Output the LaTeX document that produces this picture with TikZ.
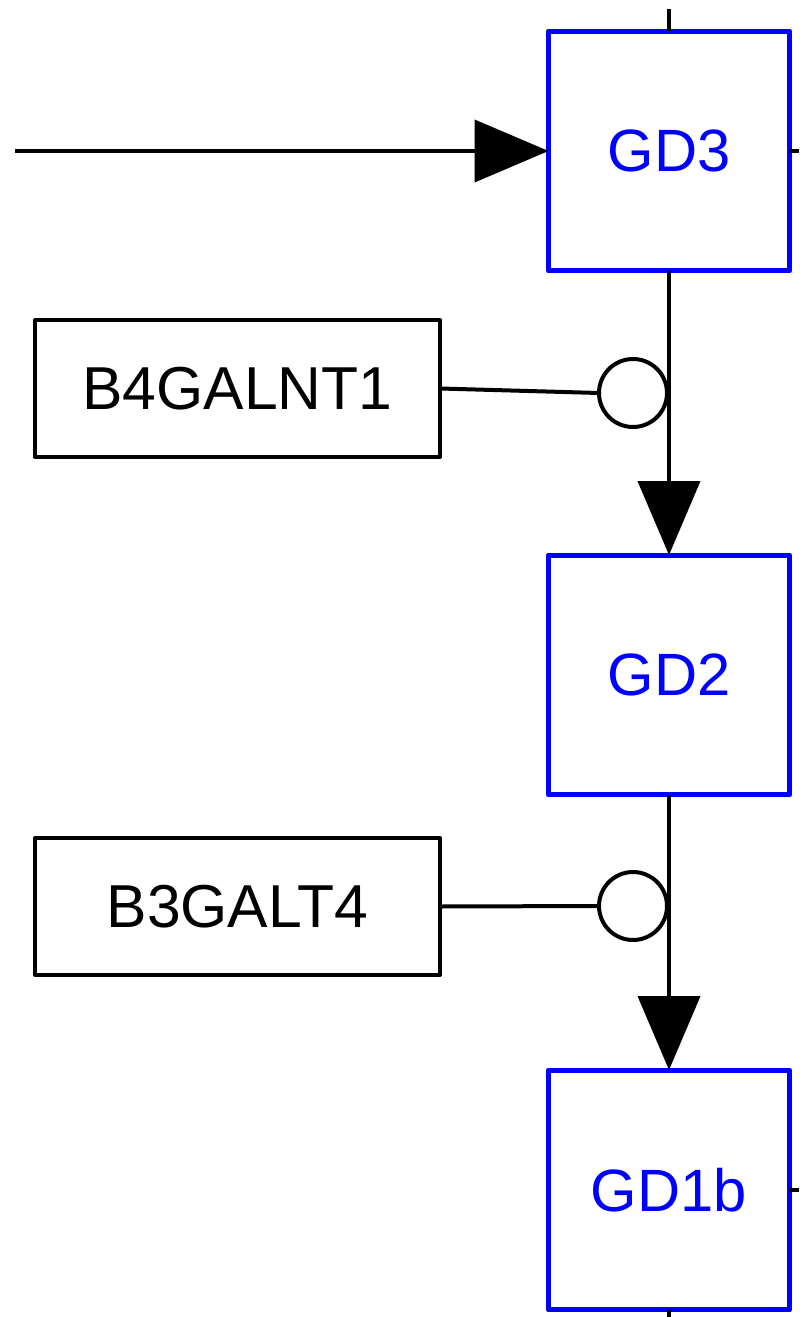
\documentclass[tikz,border=0pt]{standalone}
\usepackage{fontspec}
\setmainfont{Liberation Sans}
\usetikzlibrary{arrows.meta}
\begin{document}
\begin{tikzpicture}[x=0.02cm,y=-0.02cm,
  gdbox/.style={draw=blue, line width=0.1cm, line join=round, text=blue, minimum width=4.82cm, minimum height=4.8cm,
    inner sep=0pt, outer sep=0pt, font=\fontsize{34}{40}\selectfont},
  enzbox/.style={draw=black, line width=0.08cm, line join=round, minimum width=8.1cm, minimum height=2.74cm,
    inner sep=0pt, outer sep=0pt, font=\fontsize{34.5}{40}\selectfont},
  inhib/.style={draw=black, line width=0.08cm, circle, minimum size=1.36cm, inner sep=0pt, outer sep=0pt},
  link/.style={line width=0.08cm},
  flow/.style={link, -{Triangle[length=1.48cm,width=1.24cm]}}]
  \useasboundingbox (0,0) rectangle (799,1317);
  % ganglioside boxes
  \node[gdbox] (gd3) at (669,151) {GD3};
  \node[gdbox] (gd2) at (669,675) {GD2};
  \node[gdbox] (gd1b) at (669,1190) {GD1b};
  % enzymes with their circles
  \node[enzbox] (b4galnt) at (237.5,388.5) {B4GALNT1};
  \node[enzbox] (b3galt) at (237.5,906.5) {B3GALT4};
  \node[inhib] (c1) at (633,393) {};
  \node[inhib] (c2) at (633,906) {};
  \coordinate (in) at (15,151);
  \coordinate (top) at (669,9);
  \coordinate (rt3) at (799,151);
  \coordinate (rt1) at (799,1190);
  \coordinate (bot) at (669,1317);
  % connectors
  \draw[flow] (in) -- (gd3.west);
  \draw[link] (top) -- (gd3.north);
  \draw[link] (gd3.east) -- (rt3);
  \draw[flow] (gd3.south) -- (gd2.north);
  \draw[flow] (gd2.south) -- (gd1b.north);
  \draw[link] (gd1b.east) -- (rt1);
  \draw[link] (gd1b.south) -- (bot);
  \draw[link] (b4galnt.east) -- (c1.west);
  \draw[link] (b3galt.east) -- (c2.west);
\end{tikzpicture}
\end{document}
